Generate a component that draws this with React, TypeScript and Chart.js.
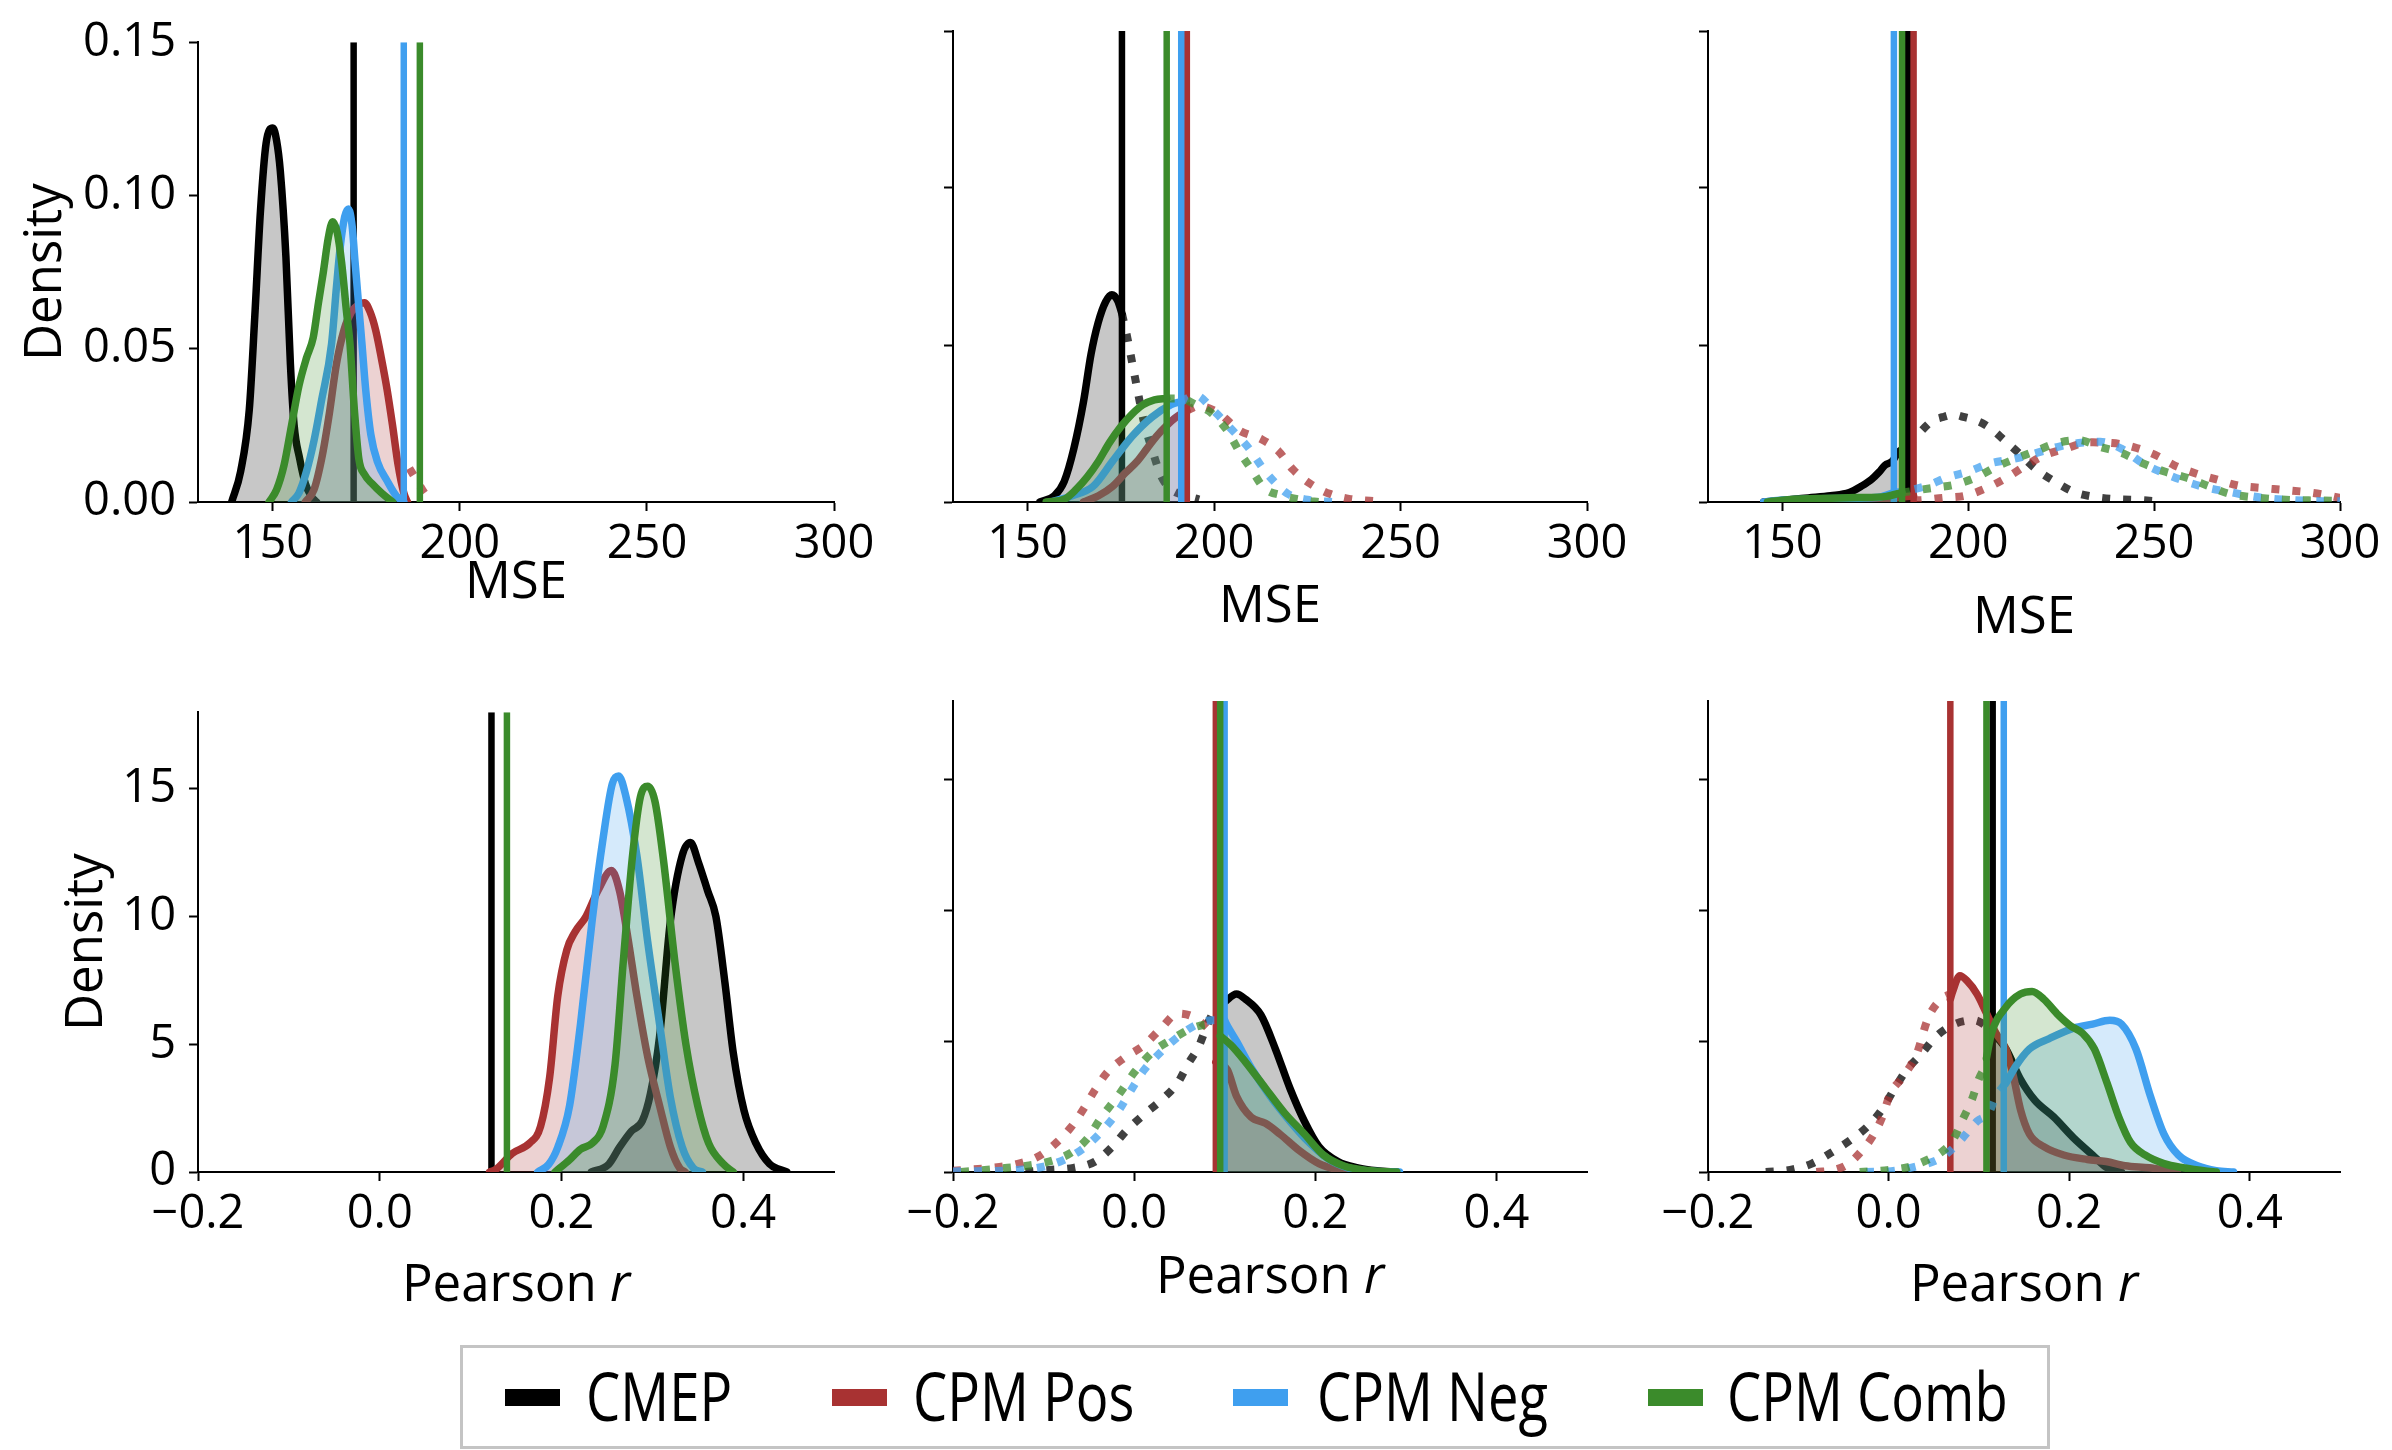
import React, { useEffect, useRef } from 'react';
import { Chart, registerables } from 'chart.js';

Chart.register(...registerables);

type P = [number, number][];

const FONT = "'Open Sans', 'DejaVu Sans', sans-serif";

// ---------- categories / styling data ----------
const models = ['CMEP', 'CPM Pos', 'CPM Neg', 'CPM Comb'];
const modelColors = ['#000000', '#a83232', '#3f9fef', '#3b8b2b'];

// ---------- tick labels / ranges ----------
const mseTicks = [150, 200, 250, 300];
const mseRange = [130, 300];
const mseDensityTicks = [0, 0.05, 0.1, 0.15];
const mseDensityMax = 0.15;
const rTicks = [-0.2, 0, 0.2, 0.4];
const rRange = [-0.2, 0.5];
const rDensityTicks = [0, 5, 10, 15];
const rDensityMax = 18;

// ---------- Panel 1 (MSE, left) ----------
const mse1Cmep: P = [[139,0],[141.4,0.01],[143.7,0.03],[145.2,0.061],[146.7,0.095],[148.2,0.117],[150,0.122],[151,0.118],[152,0.108],[153.5,0.08],[154.7,0.045],[155.7,0.025],[157.2,0.014],[158.7,0.006],[160.2,0.002],[161.7,0]];
const mse1Pos: P = [[158.7,0],[161,0.004],[163.2,0.015],[165,0.028],[167,0.045],[169,0.056],[171,0.062],[173,0.0645],[174.5,0.065],[176,0.062],[177.5,0.056],[179,0.047],[180.5,0.037],[182,0.025],[183.5,0.012],[185,0.003],[186,0]];
const mse1PosNull: P = [[186.5,0.011],[188.5,0.007],[190.5,0.003],[192,0.001]];
const mse1Neg: P = [[155,0],[157,0.003],[159,0.01],[161,0.02],[163,0.033],[165.7,0.0516],[167,0.07],[168,0.083],[169.2,0.093],[170.2,0.0956],[171.2,0.09],[172,0.078],[173.1,0.062],[173.8,0.052],[174.8,0.037],[176.2,0.022],[178,0.013],[180.5,0.007],[183,0.002],[185,0]];
const mse1Comb: P = [[149,0],[151,0.004],[153,0.012],[155,0.025],[157,0.038],[159,0.047],[160.8,0.0537],[162.2,0.065],[163.5,0.075],[164.8,0.086],[166,0.0914],[167.2,0.088],[168.4,0.078],[169.7,0.062],[170.6,0.052],[171.8,0.03],[173,0.014],[174.5,0.009],[176.5,0.006],[179,0.003],[182,0]];
const mse1Vlines = [171.6, null, 185.0, 189.3];

// ---------- Panel 2 (MSE, middle) ----------
const mse2Cmep: P = [[153.3,0],[157.2,0.002],[159.8,0.0065],[162.4,0.017],[165,0.032],[167,0.047],[168.9,0.057],[170.9,0.0637],[172.6,0.066],[174.2,0.064],[175.3,0.06]];
const mse2CmepNull: P = [[175.3,0.06],[176.8,0.052],[178.1,0.044],[179.4,0.036],[181.3,0.025],[183.3,0.017],[185.9,0.008],[188.5,0.004],[192.4,0.002],[196,0.0008]];
const mse2Pos: P = [[165,0],[169,0.002],[172.8,0.005],[176,0.009],[179.4,0.013],[182,0.017],[184.6,0.021],[187,0.024],[189.8,0.027],[192.7,0.029]];
const mse2PosNull: P = [[192.7,0.029],[195.7,0.0306],[200.9,0.0286],[206.8,0.0228],[212.7,0.02],[217.2,0.0163],[221.1,0.0104],[225.7,0.0059],[231,0.0026],[236.2,0.001],[242.7,0.0003]];
const mse2Neg: P = [[156,0],[162,0.002],[167.6,0.005],[172.8,0.013],[178.1,0.021],[183.3,0.027],[188.5,0.031],[191.2,0.032]];
const mse2NegNull: P = [[191.2,0.032],[195,0.034],[200.3,0.0286],[204.8,0.023],[209.4,0.017],[213.3,0.0104],[216.5,0.006],[219.8,0.0026],[225,0.0007],[232,0]];
const mse2Comb: P = [[155,0],[160,0.001],[163,0.004],[166,0.008],[169,0.013],[172,0.019],[175,0.024],[178,0.028],[181,0.031],[184,0.0325],[187.3,0.033]];
const mse2CombNull: P = [[187.3,0.033],[191,0.033],[195,0.031],[199,0.0286],[203.5,0.0228],[206.8,0.016],[210,0.0104],[213.3,0.0046],[218.5,0.002],[224.4,0.0005],[228,0]];
const mse2Vlines = [175.3, 192.7, 191.2, 187.3];

// ---------- Panel 3 (MSE, right) ----------
const mse3Cmep: P = [[145,0],[150,0.0005],[157,0.0013],[163,0.002],[168,0.003],[171.2,0.005],[174,0.0072],[176,0.0095],[177.6,0.0117],[179.6,0.013],[181,0.0156],[183.8,0.018]];
const mse3CmepNull: P = [[183.8,0.018],[188,0.0234],[190.5,0.026],[193,0.027],[196,0.0278],[199,0.027],[202,0.026],[204.4,0.0247],[207,0.0225],[209.4,0.02],[213.6,0.0156],[218.1,0.0106],[223.3,0.0065],[228.4,0.0032],[234.2,0.0016],[240,0.0009],[246.4,0.0006],[250,0.0003]];
const mse3Pos: P = [[160,0],[170,0.0005],[178,0.001],[185.3,0.002]];
const mse3PosNull: P = [[185.3,0.0005],[187.3,0.0006],[193,0.0013],[199.2,0.002],[205,0.0045],[210.4,0.0078],[215.6,0.0117],[220.7,0.015],[226.2,0.017],[232.3,0.019],[238.7,0.0188],[244.5,0.0175],[250.3,0.015],[255.4,0.0117],[261.2,0.0091],[267,0.0071],[272.8,0.0052],[278.5,0.0045],[284.3,0.0039],[290.8,0.0032],[295.9,0.0023],[300,0.0013]];
const mse3Neg: P = [[145,0],[150,0.0006],[160,0.001],[170,0.0012],[176,0.0015],[180,0.003]];
const mse3NegNull: P = [[180,0.003],[183,0.0035],[189,0.0052],[194.3,0.0078],[200,0.0097],[205.9,0.0123],[211.7,0.0136],[217.5,0.0153],[223.9,0.0175],[229.7,0.0188],[235.5,0.0192],[241.3,0.0169],[247,0.0123],[252.8,0.0091],[258.6,0.0065],[264.4,0.0045],[270.2,0.0032],[276,0.0019],[281.7,0.001],[287.5,0.0006],[293.3,0.0003],[300,0.0002]];
const mse3Comb: P = [[146,0],[150,0.0006],[160,0.0011],[170,0.0014],[178,0.0018],[182.2,0.003]];
const mse3CombNull: P = [[182.2,0.003],[190.5,0.0045],[196.3,0.0055],[202.1,0.0078],[207.2,0.011],[212.3,0.0136],[218.1,0.0162],[223.9,0.0188],[229.7,0.0197],[235.5,0.0175],[241.3,0.0156],[247,0.0123],[252.8,0.0097],[258.6,0.0078],[264.4,0.0052],[270.2,0.0026],[276,0.0016],[281.7,0.001],[287.5,0.0006],[293.3,0.0005],[300,0.0004]];
const mse3Vlines = [183.8, 185.3, 180.0, 182.2];

// ---------- Panel 4 (Pearson r, left) ----------
const r1Cmep: P = [[0.233,0],[0.252,0.3],[0.264,0.97],[0.277,1.6],[0.289,2.0],[0.298,3.07],[0.308,5.3],[0.32,9.85],[0.333,12.4],[0.342,12.9],[0.351,12.1],[0.361,11.0],[0.37,10.0],[0.38,7.4],[0.389,4.7],[0.401,2.4],[0.414,1.13],[0.429,0.32],[0.448,0]];
const r1Pos: P = [[0.121,0],[0.127,0.08],[0.146,0.73],[0.165,1.13],[0.177,1.78],[0.187,3.7],[0.196,6.9],[0.206,8.7],[0.215,9.4],[0.227,10.0],[0.24,11.0],[0.255,11.8],[0.264,11.0],[0.273,9.2],[0.283,6.9],[0.295,4.5],[0.308,2.6],[0.32,0.97],[0.33,0.16],[0.336,0]];
const r1Neg: P = [[0.174,0],[0.186,0.3],[0.196,0.97],[0.209,2.6],[0.221,5.8],[0.234,9.9],[0.246,13.1],[0.256,15.2],[0.263,15.5],[0.271,14.7],[0.283,12.4],[0.295,9.0],[0.308,5.8],[0.32,2.9],[0.333,0.97],[0.345,0.16],[0.355,0]];
const r1Comb: P = [[0.193,0],[0.209,0.48],[0.221,0.89],[0.234,1.13],[0.246,1.8],[0.259,4.2],[0.268,8.2],[0.278,12.3],[0.287,14.7],[0.295,15.1],[0.303,14.5],[0.312,12.3],[0.325,8.2],[0.337,5.0],[0.35,2.6],[0.362,1.13],[0.378,0.32],[0.389,0]];
const r1Vlines = [0.123, null, null, 0.14];

// ---------- Panel 5 (Pearson r, middle) ----------
const r2Cmep: P = [[0.0999,6.5],[0.113,6.8],[0.123,6.6],[0.14,6.0],[0.156,4.7],[0.172,3.2],[0.188,1.94],[0.204,0.97],[0.225,0.4],[0.247,0.16],[0.268,0.05],[0.29,0]];
const r2CmepNull: P = [[-0.12,0],[-0.094,0.08],[-0.067,0.16],[-0.043,0.4],[-0.024,0.97],[-0.008,1.6],[0.011,2.2],[0.03,2.75],[0.048,3.4],[0.059,4.1],[0.072,4.85],[0.081,5.65],[0.091,6.3],[0.0999,6.5]];
const r2Pos: P = [[0.0902,4.2],[0.103,3.9],[0.113,2.9],[0.129,2.1],[0.145,1.86],[0.161,1.45],[0.183,0.8],[0.204,0.32],[0.225,0.08],[0.236,0]];
const r2PosNull: P = [[-0.2,0.05],[-0.157,0.16],[-0.13,0.3],[-0.107,0.57],[-0.088,1.05],[-0.07,1.7],[-0.056,2.4],[-0.043,3.15],[-0.03,3.8],[-0.011,4.36],[0.011,4.85],[0.03,5.5],[0.048,6.06],[0.067,5.9],[0.0902,5.2]];
const r2Neg: P = [[0.0999,5.8],[0.102,5.65],[0.113,5.0],[0.129,4.0],[0.15,2.9],[0.172,1.94],[0.193,1.13],[0.215,0.48],[0.236,0.16],[0.258,0.04],[0.293,0]];
const r2NegNull: P = [[-0.2,0.02],[-0.12,0.1],[-0.09,0.3],[-0.067,0.65],[-0.048,1.13],[-0.03,1.78],[-0.016,2.4],[-0.003,3.15],[0.011,3.9],[0.027,4.5],[0.046,5.1],[0.067,5.6],[0.086,5.8],[0.0999,5.8]];
const r2Comb: P = [[0.095,5.2],[0.107,4.85],[0.123,4.2],[0.145,3.2],[0.166,2.26],[0.188,1.45],[0.209,0.65],[0.231,0.24],[0.258,0.06],[0.29,0]];
const r2CombNull: P = [[-0.191,0],[-0.14,0.16],[-0.118,0.24],[-0.094,0.4],[-0.07,0.73],[-0.051,1.3],[-0.038,2.0],[-0.016,3.0],[0.0,3.8],[0.021,4.6],[0.043,5.1],[0.064,5.5],[0.086,5.65],[0.095,5.6]];
const r2Vlines = [null, 0.0902, 0.0999, 0.095];

// ---------- Panel 6 (Pearson r, right) ----------
const r3Cmep: P = [[0.1153,5.2],[0.119,5.16],[0.13,4.7],[0.146,3.55],[0.162,2.74],[0.183,2.1],[0.205,1.3],[0.226,0.65],[0.242,0.16],[0.258,0]];
const r3CmepNull: P = [[-0.136,0],[-0.109,0.08],[-0.085,0.32],[-0.064,0.73],[-0.043,1.2],[-0.022,1.78],[-0.007,2.4],[0.006,3.15],[0.02,3.9],[0.036,4.5],[0.052,5.16],[0.073,5.65],[0.095,5.8],[0.1153,5.4]];
const r3Pos: P = [[0.0684,6.6],[0.071,6.9],[0.079,7.5],[0.087,7.3],[0.098,6.8],[0.108,6.1],[0.119,5.3],[0.13,4.7],[0.138,3.7],[0.146,2.4],[0.156,1.45],[0.172,0.97],[0.194,0.65],[0.22,0.48],[0.241,0.4],[0.262,0.24],[0.289,0.16],[0.31,0.05],[0.32,0]];
const r3PosNull: P = [[-0.08,0],[-0.06,0.08],[-0.045,0.3],[-0.03,0.8],[-0.017,1.4],[-0.007,2.1],[0.002,3.0],[0.015,3.6],[0.031,4.5],[0.044,5.9],[0.058,6.6],[0.0684,6.8]];
const r3Neg: P = [[0.1276,3.3],[0.13,3.4],[0.14,4.0],[0.156,4.7],[0.178,5.1],[0.205,5.5],[0.226,5.65],[0.245,5.8],[0.258,5.65],[0.274,4.7],[0.29,2.9],[0.305,1.45],[0.321,0.65],[0.342,0.24],[0.363,0.05],[0.382,0]];
const r3NegNull: P = [[-0.025,0],[0.007,0.05],[0.034,0.24],[0.055,0.48],[0.068,0.8],[0.082,1.3],[0.098,1.94],[0.111,2.26],[0.119,2.9],[0.1276,3.3]];
const r3Comb: P = [[0.1084,4.35],[0.114,5.3],[0.13,6.3],[0.146,6.8],[0.159,6.9],[0.172,6.6],[0.188,6.0],[0.201,5.6],[0.215,5.3],[0.228,4.7],[0.242,3.4],[0.255,2.1],[0.268,1.13],[0.284,0.65],[0.305,0.32],[0.326,0.16],[0.353,0.03],[0.363,0]];
const r3CombNull: P = [[-0.032,0],[0.0,0.08],[0.023,0.2],[0.044,0.48],[0.06,0.8],[0.071,1.2],[0.082,2.0],[0.092,2.74],[0.1,3.55],[0.1084,4.1]];
const r3Vlines = [0.1153, 0.0684, 0.1276, 0.1084];

// ---------- layout (positions in page pixels) ----------
const colLeft = [198, 953, 1708];
const colRight = [834, 1587, 2340];
const rowTop = [31, 701];
const rowBottom = [502, 1172];
const xTitleCenter = [[583, 607, 618], [1286, 1278, 1286]];
const yTitleCenter = [46, 87];
const YW = 190, PT = 30, PR = 60, XH = 150;
const TICK_FONT = 47, TITLE_FONT = 51;

interface PanelSpec {
  row: number;
  col: number;
  solid: (P | null)[];
  dotted: (P | null)[];
  vlines: (number | null)[];
}

const panels: PanelSpec[] = [
  { row: 0, col: 0, solid: [mse1Cmep, mse1Pos, mse1Neg, mse1Comb], dotted: [null, mse1PosNull, null, null], vlines: mse1Vlines },
  { row: 0, col: 1, solid: [mse2Cmep, mse2Pos, mse2Neg, mse2Comb], dotted: [mse2CmepNull, mse2PosNull, mse2NegNull, mse2CombNull], vlines: mse2Vlines },
  { row: 0, col: 2, solid: [mse3Cmep, mse3Pos, mse3Neg, mse3Comb], dotted: [mse3CmepNull, mse3PosNull, mse3NegNull, mse3CombNull], vlines: mse3Vlines },
  { row: 1, col: 0, solid: [r1Cmep, r1Pos, r1Neg, r1Comb], dotted: [null, null, null, null], vlines: r1Vlines },
  { row: 1, col: 1, solid: [r2Cmep, r2Pos, r2Neg, r2Comb], dotted: [r2CmepNull, r2PosNull, r2NegNull, r2CombNull], vlines: r2Vlines },
  { row: 1, col: 2, solid: [r3Cmep, r3Pos, r3Neg, r3Comb], dotted: [r3CmepNull, r3PosNull, r3NegNull, r3CombNull], vlines: r3Vlines },
];

function rgba(hex: string, a: number) {
  const n = parseInt(hex.slice(1), 16);
  return `rgba(${(n >> 16) & 255},${(n >> 8) & 255},${n & 255},${a})`;
}

const toXY = (p: P) => p.map(([x, y]) => ({ x, y }));

function Panel({ spec }: { spec: PanelSpec }) {
  const ref = useRef<HTMLCanvasElement>(null);
  const { row, col } = spec;
  const plotW = colRight[col] - colLeft[col];
  const plotH = rowBottom[row] - rowTop[row];
  const cw = YW + plotW + PR;
  const ch = PT + plotH + XH;
  const cLeft = colLeft[col] - YW;
  const cTop = rowTop[row] - PT;

  useEffect(() => {
    const isMse = row === 0;
    const ymax = isMse ? mseDensityMax : rDensityMax;
    const xr = isMse ? mseRange : rRange;
    const xt = isMse ? mseTicks : rTicks;
    const yt = isMse ? mseDensityTicks : rDensityTicks;
    const datasets: any[] = [];
    for (let i = 0; i < models.length; i++) {
      const color = modelColors[i];
      const base = (models.length - 1 - i) * 10;
      const s = spec.solid[i];
      if (s) {
        datasets.push({
          label: models[i], data: toXY(s), borderColor: color, backgroundColor: rgba(color, 0.22),
          fill: 'origin', borderWidth: 7.5, pointRadius: 0, cubicInterpolationMode: 'monotone',
          borderJoinStyle: 'round', borderCapStyle: 'round', order: base + 2,
        });
      }
      const d = spec.dotted[i];
      if (d) {
        datasets.push({
          label: models[i] + ' null', data: toXY(d), borderColor: rgba(color, 0.75), fill: false,
          borderWidth: 8, borderDash: [8, 13], borderCapStyle: 'butt', pointRadius: 0,
          cubicInterpolationMode: 'monotone', order: base + 3,
        });
      }
      const v = spec.vlines[i];
      if (v != null) {
        datasets.push({
          label: models[i] + ' observed', data: [{ x: v, y: 0 }, { x: v, y: ymax }], borderColor: color,
          borderWidth: 6.5, pointRadius: 0, fill: false, tension: 0, borderCapStyle: 'butt', order: base + 1,
        });
      }
    }

    const fmtX = (v: number) => isMse ? String(v) : (v < 0 ? '\u2212' + Math.abs(v).toFixed(1) : v.toFixed(1));
    const fmtY = (v: number) => isMse ? v.toFixed(2) : String(v);
    const titleLH = TITLE_FONT * 1.2;
    const xTitlePad = XH - (xTitleCenter[row][col] - rowBottom[row]) - titleLH / 2;
    const yTitlePad = yTitleCenter[row] - cLeft - titleLH / 2;
    const tickPad = 545 - 502 - 9 - (TICK_FONT * 1.2) / 2;

    const plugins: any[] = [];
    if (!isMse) {
      const cy = xTitleCenter[row][col] - cTop;
      plugins.push({
        id: 'pearsonTitle',
        afterDraw(chart: any) {
          const { ctx, chartArea } = chart;
          ctx.save();
          const f1 = `${TITLE_FONT}px ${FONT}`;
          const f2 = `italic ${TITLE_FONT}px ${FONT}`;
          ctx.font = f1;
          const w1 = ctx.measureText('Pearson ').width;
          ctx.font = f2;
          const w2 = ctx.measureText('r').width;
          const x0 = (chartArea.left + chartArea.right) / 2 - (w1 + w2) / 2;
          ctx.fillStyle = '#000';
          ctx.textBaseline = 'middle';
          ctx.textAlign = 'left';
          ctx.font = f1;
          ctx.fillText('Pearson ', x0, cy);
          ctx.font = f2;
          ctx.fillText('r', x0 + w1, cy);
          ctx.restore();
        },
      });
    }

    const chart = new Chart(ref.current as HTMLCanvasElement, {
      type: 'line',
      data: { datasets },
      plugins,
      options: {
        responsive: false,
        maintainAspectRatio: false,
        animation: false,
        events: [],
        layout: { padding: { top: PT, right: PR, left: 0, bottom: 0 } },
        plugins: {
          legend: { display: false },
          tooltip: { enabled: false },
          filler: { drawTime: 'beforeDatasetDraw' },
        } as any,
        scales: {
          x: {
            type: 'linear',
            min: xr[0],
            max: xr[1],
            afterBuildTicks: (s: any) => { s.ticks = xt.map((value) => ({ value })); },
            afterFit: (s: any) => { s.height = XH; },
            ticks: {
              autoSkip: false, maxRotation: 0, padding: tickPad, color: '#000',
              font: { family: FONT, size: TICK_FONT },
              callback: (v: any) => fmtX(Number(v)),
            },
            grid: { display: true, drawOnChartArea: false, drawTicks: true, tickLength: 9, tickWidth: 2, tickColor: '#000' },
            border: { display: true, color: '#000', width: 2 },
            title: {
              display: isMse, text: 'MSE', color: '#000',
              font: { family: FONT, size: TITLE_FONT },
              padding: { top: 0, bottom: xTitlePad },
            },
          },
          y: {
            type: 'linear',
            min: 0,
            max: ymax,
            afterBuildTicks: (s: any) => { s.ticks = yt.map((value) => ({ value })); },
            afterFit: (s: any) => { s.width = YW; },
            ticks: {
              display: col === 0, padding: 13, color: '#000',
              font: { family: FONT, size: TICK_FONT },
              callback: (v: any) => fmtY(Number(v)),
            },
            grid: { display: true, drawOnChartArea: false, drawTicks: true, tickLength: 9, tickWidth: 2, tickColor: '#000' },
            border: { display: true, color: '#000', width: 2 },
            title: {
              display: col === 0, text: 'Density', color: '#000',
              font: { family: FONT, size: TITLE_FONT },
              padding: { top: yTitlePad, bottom: 0 },
            },
          },
        },
      } as any,
    });
    return () => chart.destroy();
  }, []);

  return (
    <canvas
      ref={ref}
      width={cw}
      height={ch}
      style={{ position: 'absolute', left: cLeft, top: cTop, width: cw + 'px', height: ch + 'px' }}
    />
  );
}

// legend layout (page pixels)
const legendPatchX = [505, 832, 1233, 1648];
const legendTextX = [586, 913, 1317, 1727];

function Legend() {
  return (
    <>
      <div style={{ position: 'absolute', left: 460, top: 1345, width: 1590, height: 104, border: '3px solid #c4c4c4', boxSizing: 'border-box', background: '#fff' }} />
      {models.map((m, i) => (
        <React.Fragment key={m}>
          <div style={{ position: 'absolute', left: legendPatchX[i], top: 1389, width: 55, height: 17, background: modelColors[i] }} />
          <div style={{
            position: 'absolute', left: legendTextX[i], top: 1361, fontFamily: FONT, fontSize: 68, lineHeight: '68px',
            color: '#000', whiteSpace: 'nowrap', transform: 'scaleX(0.8)', transformOrigin: 'left center',
          }}>{m}</div>
        </React.Fragment>
      ))}
    </>
  );
}

export default function App() {
  return (
    <div style={{ position: 'absolute', left: 0, top: 0, width: 2392, height: 1450, background: '#fff', overflow: 'hidden' }}>
      {panels.map((p, i) => <Panel key={i} spec={p} />)}
      <Legend />
    </div>
  );
}
